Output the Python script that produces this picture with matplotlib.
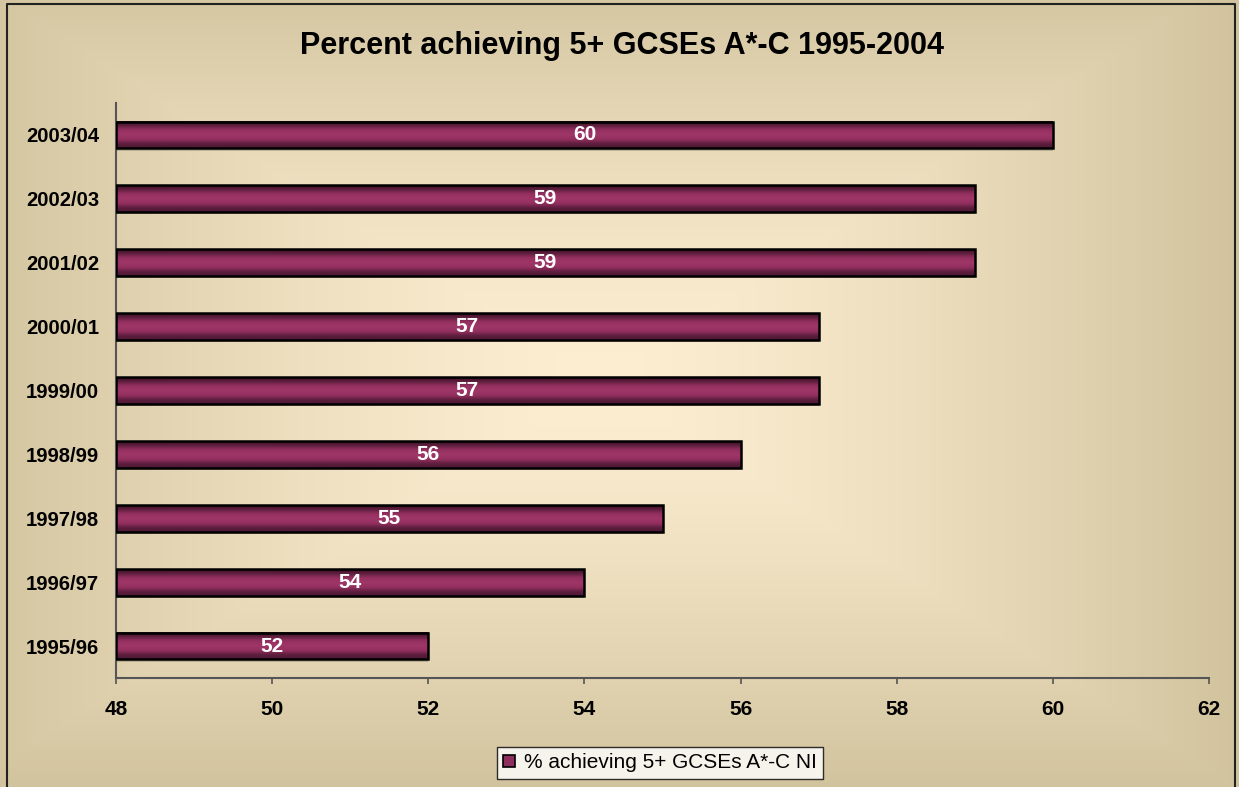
import numpy as np
import matplotlib
matplotlib.use("Agg")
import matplotlib.pyplot as plt
from matplotlib.colors import LinearSegmentedColormap
from matplotlib.patches import Rectangle

categories = ["1995/96", "1996/97", "1997/98", "1998/99", "1999/00",
              "2000/01", "2001/02", "2002/03", "2003/04"]
values = [52, 54, 55, 56, 57, 57, 59, 59, 60]
xticks = [48, 50, 52, 54, 56, 58, 60, 62]
title = "Percent achieving 5+ GCSEs A*-C 1995-2004"
series_name = "% achieving 5+ GCSEs A*-C NI"

plt.rcParams['font.family'] = ['Liberation Sans', 'DejaVu Sans']

W, H = 1239, 787
fig = plt.figure(figsize=(W / 100, H / 100), dpi=100)

# background: rectangular "from centre" gradient
bg = fig.add_axes([0, 0, 1, 1], zorder=-10)
bg.set_axis_off()
yy, xx = np.mgrid[0:H, 0:W]
cx, cy = 600, 380
d = np.maximum(np.abs(xx - cx) / (W - cx), np.abs(yy - cy) / (H - cy))
d = np.clip(d, 0, 1) ** 1.4
c0 = np.array([253, 238, 210]) / 255
c1 = np.array([209, 195, 157]) / 255
img = c0[None, None, :] * (1 - d[..., None]) + c1[None, None, :] * d[..., None]
bg.imshow(img, extent=(0, 1, 0, 1), aspect='auto', origin='upper')
bg.set_xlim(0, 1)
bg.set_ylim(0, 1)

# border
bx0, bx1 = 7 / W, 1235 / W
by0, by1 = -0.01, 1 - 4 / H
bg.plot([bx0, bx0, bx1, bx1], [by0, by1, by1, by0], color='#222222', lw=1.5,
        transform=bg.transAxes, clip_on=False)

ax = fig.add_axes([116 / W, 1 - 678 / H, (1209 - 116) / W, (678 - 103) / H])
ax.patch.set_alpha(0)

xmin, xmax = xticks[0], xticks[-1]

bar_h = 0.42
cmap = LinearSegmentedColormap.from_list(
    "plum", [(0.0, "#33101f"), (0.15, "#5e1e3d"), (0.32, "#93305f"),
             (0.5, "#a03668"), (0.68, "#93305f"), (0.85, "#5e1e3d"), (1.0, "#4a1832")])
grad = np.linspace(0, 1, 64)[:, None]
for i, v in enumerate(values):
    ax.add_patch(Rectangle((xmin, i - bar_h / 2 - 0.035), v - xmin, bar_h,
                           facecolor='#8a8470', alpha=0.45, edgecolor='none', zorder=1))
    ax.imshow(grad, cmap=cmap, extent=(xmin, v, i - bar_h / 2, i + bar_h / 2),
              aspect='auto', zorder=2, interpolation='bilinear')
    ax.add_patch(Rectangle((xmin, i - bar_h / 2), v - xmin, bar_h,
                           facecolor='none', edgecolor='black', lw=1.8, zorder=3))
    ax.text((xmin + v) / 2, i, f"{v}", color='white', fontsize=15,
            fontweight='bold', ha='center', va='center', zorder=4)

ax.set_xlim(xmin, xmax)
ax.set_ylim(-0.5, len(categories) - 0.5)
ax.set_xticks(xticks)
ax.set_xticklabels([str(t) for t in xticks], fontsize=15, fontweight='bold')
ax.set_yticks(range(len(categories)))
ax.set_yticklabels(categories, fontsize=14.6, fontweight='bold')
ax.tick_params(axis='x', direction='out', length=4.5, width=1.2, color='#555555', pad=11)
ax.tick_params(axis='y', length=0, pad=12)
for s in ['top', 'right']:
    ax.spines[s].set_visible(False)
for s in ['left', 'bottom']:
    ax.spines[s].set_color('#555555')
    ax.spines[s].set_linewidth(1.5)

fig.text(622 / W, 1 - 46 / H, title, fontsize=22, fontweight='bold',
         ha='center', va='center')

handle = Rectangle((0, 0), 1, 1, facecolor='#8e2e5c', edgecolor='black', lw=1.2)
leg = fig.legend([handle], [series_name], loc='center',
                 bbox_to_anchor=(660 / W, 1 - 763 / H), fontsize=15,
                 frameon=True, fancybox=False, edgecolor='black',
                 handlelength=0.55, handleheight=0.55, handletextpad=0.45,
                 borderpad=0.3, borderaxespad=0)
leg.get_frame().set_linewidth(1.0)
leg.get_frame().set_facecolor('white')

fig.savefig("out.png", dpi=100)
